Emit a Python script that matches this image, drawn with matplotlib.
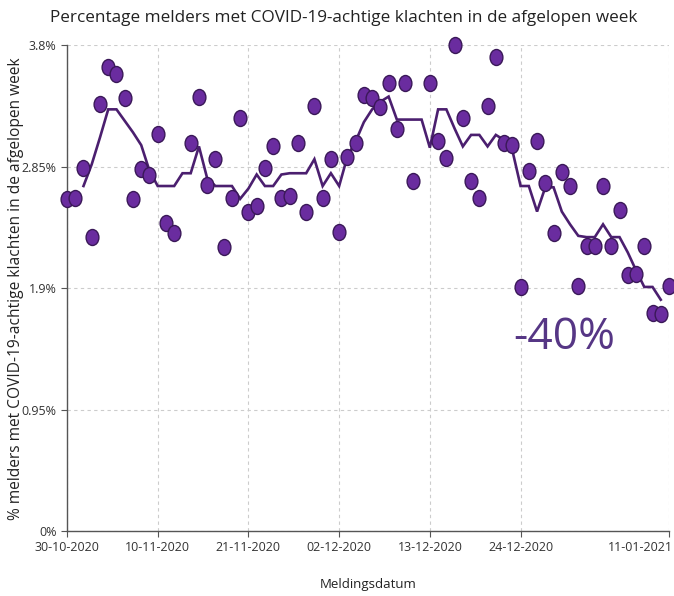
import numpy as np
import pandas as pd
import matplotlib
matplotlib.use("Agg")
import matplotlib.pyplot as plt
from matplotlib.path import Path
from matplotlib.transforms import Affine2D, ScaledTranslation

plt.rcParams['font.family'] = ['Open Sans', 'DejaVu Sans']

title = "Percentage melders met COVID-19-achtige klachten in de afgelopen week"
ylabel = "% melders met COVID-19-achtige klachten in de afgelopen week"
xlabel = "Meldingsdatum"
annotation = "-40%"

# Daily percentages, 30-10-2020 .. 11-01-2021 (NaN = no report that day)
daily_pct = [
    2.60, 2.61, 2.84, 2.30, 3.34, 3.63, 3.58, 3.39, 2.60, 2.83,
    2.79, 3.11, 2.41, 2.33, np.nan, 3.04, 3.40, 2.71, 2.91, 2.22,
    2.61, 3.23, 2.50, 2.54, 2.84, 3.01, 2.61, 2.62, 3.04, 2.50,
    3.33, 2.61, 2.91, 2.34, 2.93, 3.04, 3.41, 3.39, 3.32, 3.51,
    3.15, 3.51, 2.74, np.nan, 3.51, 3.05, 2.92, 3.80, 3.23, 2.74,
    2.61, 3.33, 3.71, 3.04, 3.02, 1.91, 2.82, 3.05, 2.72, 2.33,
    2.81, 2.70, 1.92, 2.23, 2.23, 2.70, 2.23, 2.51, 2.00, 2.01,
    2.23, 1.71, 1.70, 1.92,
]

# Weekly trend line, 01-11-2020 .. 10-01-2021
trend_pct = [
    2.70, 2.87, 3.08, 3.30, 3.30, 3.21, 3.12, 3.02, 2.82, 2.70,
    2.70, 2.70, 2.80, 2.80, 3.01, 2.76, 2.70, 2.70, 2.70, 2.60,
    2.68, 2.79, 2.70, 2.70, 2.79, 2.80, 2.80, 2.80, 2.91, 2.70,
    2.80, 2.70, 2.93, 3.05, 3.20, 3.30, 3.36, 3.40, 3.22, 3.22,
    3.22, 3.22, 3.00, 3.30, 3.30, 3.15, 3.01, 3.10, 3.10, 3.01,
    3.10, 3.06, 2.98, 2.70, 2.70, 2.50, 2.69, 2.69, 2.50, 2.40,
    2.31, 2.30, 2.30, 2.40, 2.30, 2.30, 2.18, 2.04, 1.91, 1.91,
    1.81,
]

x_tick_dates = ["2020-10-30", "2020-11-10", "2020-11-21", "2020-12-02",
                "2020-12-13", "2020-12-24", "2021-01-11"]
x_tick_labels = ["30-10-2020", "10-11-2020", "21-11-2020", "02-12-2020",
                 "13-12-2020", "24-12-2020", "11-01-2021"]
y_ticks = [0, 0.95, 1.9, 2.85, 3.8]
y_tick_labels = ["0%", "0.95%", "1.9%", "2.85%", "3.8%"]

daily_dates = pd.date_range("2020-10-30", periods=len(daily_pct), freq="D")
trend_dates = pd.date_range("2020-11-01", periods=len(trend_pct), freq="D")

fig = plt.figure(figsize=(6.74, 5.96), dpi=100)
ax = fig.add_axes([0.0994, 0.1091, 0.8932, 0.8146])

# elliptical marker (slightly taller than wide)
ell = Path.unit_circle().transformed(Affine2D().scale(0.8, 1.0))

ax.plot(trend_dates, trend_pct, color="#4b1f6f", lw=1.9, zorder=3,
        solid_joinstyle="miter")
ax.plot(daily_dates, daily_pct, linestyle="none", marker=ell, markersize=11.5,
        markerfacecolor="#6a2c9f", markeredgecolor="#3a1858",
        markeredgewidth=1.0, zorder=4, clip_on=False)

ax.set_xlim(pd.Timestamp("2020-10-30"), pd.Timestamp("2021-01-11"))
ax.set_ylim(0, 3.8)
ax.set_xticks(pd.to_datetime(x_tick_dates))
ax.set_xticklabels(x_tick_labels)
ax.set_yticks(y_ticks)
ax.set_yticklabels(y_tick_labels)

ax.grid(True, color="#cccccc", linestyle=(0, (3, 3)), linewidth=0.8)
ax.set_axisbelow(True)
for s in ["top", "right"]:
    ax.spines[s].set_visible(False)
for s in ["left", "bottom"]:
    ax.spines[s].set_color("#555555")
    ax.spines[s].set_linewidth(1.0)
ax.tick_params(axis="both", colors="#555555", labelcolor="#333333",
               labelsize=9, length=4, width=0.8, direction="out")

# keep the last x tick label inside the figure
last = ax.get_xticklabels()[-1]
last.set_ha("right")
last.set_transform(last.get_transform() +
                   ScaledTranslation(4 / 100, 0, fig.dpi_scale_trans))

ax.set_ylabel(ylabel, fontsize=11.2, color="#222222")
ax.yaxis.set_label_coords(-0.071, 0.5)
ax.set_xlabel(xlabel, fontsize=9.5, color="#222222", labelpad=17)
fig.text(0.51, 0.970, title, ha="center", va="center", fontsize=12.3,
         color="#222222")

ax.text(pd.Timestamp("2020-12-23 02:00"), 1.51, annotation, fontsize=32,
        color="#563685", ha="left", va="center")

fig.savefig("out.png", dpi=100)
